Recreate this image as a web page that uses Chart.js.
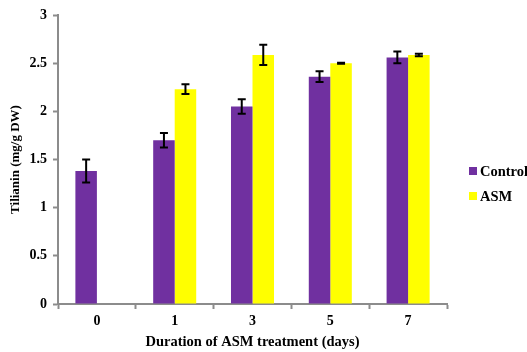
<!DOCTYPE html>
<html>
<head>
<meta charset="utf-8">
<script src="https://cdn.jsdelivr.net/npm/chart.js@4.4.1/dist/chart.umd.min.js"></script>
<style>
    html, body { margin: 0; padding: 0; background: #fff; overflow: hidden; }
</style>
</head>
<body>
<canvas id="tilianinChart" width="527" height="352"></canvas>
<script>
// data
const days = ['0', '1', '3', '5', '7'];
const controlValues = [1.38, 1.70, 2.05, 2.36, 2.56];
const controlErrors = [0.12, 0.075, 0.075, 0.055, 0.06];
const asmValues = [null, 2.23, 2.585, 2.50, 2.585];
const asmErrors = [null, 0.05, 0.105, 0.005, 0.012];
const yTicks = [0, 0.5, 1, 1.5, 2, 2.5, 3];

const serif = 'Liberation Serif';
const axisGray = '#8c8c8c';

// draws the black error bars on top of each bar
const errorBars = {
    id: 'errorBars',
    afterDatasetsDraw(chart) {
        const ctx = chart.ctx;
        const yScale = chart.scales.y;
        ctx.save();
        ctx.strokeStyle = '#000';
        ctx.lineWidth = 2;
        chart.data.datasets.forEach((ds, di) => {
            const meta = chart.getDatasetMeta(di);
            ds.data.forEach((v, i) => {
                const err = ds.errors[i];
                if (v === null || err === null) return;
                const x = meta.data[i].x;
                const yTop = yScale.getPixelForValue(v + err);
                const yBot = yScale.getPixelForValue(v - err);
                ctx.beginPath();
                ctx.moveTo(x, yTop); ctx.lineTo(x, yBot);
                ctx.moveTo(x - 4, yTop); ctx.lineTo(x + 4, yTop);
                ctx.moveTo(x - 4, yBot); ctx.lineTo(x + 4, yBot);
                ctx.stroke();
            });
        });
        ctx.restore();
    }
};

// small legend on the right side, like the original
const sideLegend = {
    id: 'sideLegend',
    afterDraw(chart) {
        const ctx = chart.ctx;
        const area = chart.chartArea;
        const x = area.right + 22;
        let y = area.top + 156;
        ctx.save();
        ctx.font = 'bold 14.5px "' + serif + '"';
        ctx.textBaseline = 'middle';
        chart.data.datasets.forEach(ds => {
            ctx.fillStyle = ds.backgroundColor;
            ctx.fillRect(x, y - 4, 8, 8);
            ctx.fillStyle = '#000';
            ctx.fillText(ds.label, x + 11, y + 1);
            y += 25;
        });
        ctx.restore();
    }
};

const ctx = document.getElementById('tilianinChart').getContext('2d');
const tilianinChart = new Chart(ctx, {
    type: 'bar',
    data: {
        labels: days,
        datasets: [{
            label: 'Control',
            data: controlValues,
            errors: controlErrors,
            backgroundColor: '#7030A0'
        }, {
            label: 'ASM',
            data: asmValues,
            errors: asmErrors,
            backgroundColor: '#FFFF00'
        }]
    },
    options: {
        responsive: false,
        animation: false,
        datasets: {
            bar: { categoryPercentage: 0.553, barPercentage: 1 }
        },
        layout: {
            padding: { top: 15, right: 80, left: 0, bottom: 0 }
        },
        plugins: {
            legend: { display: false },
            tooltip: { enabled: false }
        },
        scales: {
            x: {
                afterFit: scale => { scale.height = 48; },
                grid: {
                    offset: true,
                    drawOnChartArea: false,
                    drawTicks: true,
                    tickLength: 5,
                    tickColor: axisGray,
                    tickWidth: 2
                },
                border: { color: axisGray, width: 2 },
                ticks: {
                    color: '#000',
                    padding: 4,
                    font: { family: serif, size: 14, weight: 'bold' }
                },
                title: {
                    display: true,
                    text: 'Duration of ASM treatment (days)',
                    color: '#000',
                    padding: { top: 0, bottom: 1 },
                    font: { family: serif, size: 14.5, weight: 'bold' }
                }
            },
            y: {
                min: 0,
                max: 3,
                afterFit: scale => { scale.width = 58; },
                afterBuildTicks: scale => {
                    scale.ticks = yTicks.map(v => ({ value: v }));
                },
                grid: {
                    drawOnChartArea: false,
                    drawTicks: true,
                    tickLength: 5,
                    tickColor: axisGray,
                    tickWidth: 2
                },
                border: { color: axisGray, width: 2 },
                ticks: {
                    color: '#000',
                    padding: 6,
                    callback: value => String(value),
                    font: { family: serif, size: 14, weight: 'bold' }
                },
                title: {
                    display: true,
                    text: 'Tilianin (mg/g DW)',
                    color: '#000',
                    padding: { top: 8, bottom: 0 },
                    font: { family: serif, size: 13, weight: 'bold' }
                }
            }
        }
    },
    plugins: [errorBars, sideLegend]
});
</script>
</body>
</html>
